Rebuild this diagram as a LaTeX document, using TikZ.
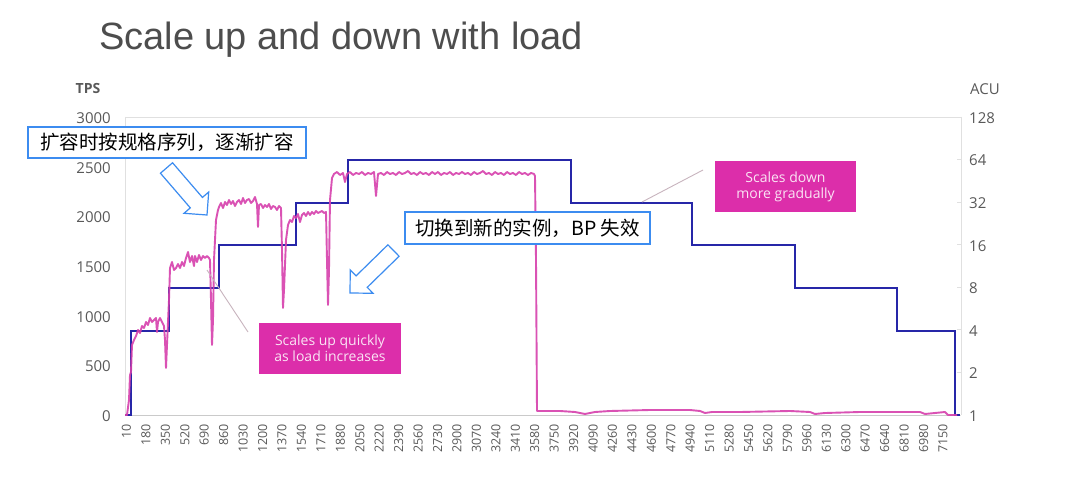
\documentclass[tikz,border=0pt]{standalone}
\usepackage{fontspec}
\setmainfont{Open Sans}
\newfontfamily\titlefont{Liberation Sans}
\newfontfamily\cjk{Noto Sans CJK SC}
\usetikzlibrary{calc}
\definecolor{tpspink}{RGB}{214,64,172}
\definecolor{acublue}{RGB}{38,38,168}
\definecolor{callpink}{RGB}{220,46,170}
\definecolor{callink}{RGB}{250,228,244}
\definecolor{boxblue}{RGB}{60,140,240}
\definecolor{axisgray}{RGB}{89,89,89}
\definecolor{gridgray}{RGB}{224,224,224}
\definecolor{leadgray}{RGB}{200,180,190}
\definecolor{titlegray}{RGB}{77,77,77}
\tikzset{
  ylab/.style={anchor=east,inner sep=0pt,text=axisgray,font=\fontsize{15}{18}\selectfont},
  rlab/.style={anchor=west,inner sep=0pt,text=axisgray,font=\fontsize{15}{18}\selectfont},
  xlab/.style={anchor=east,rotate=90,inner sep=0pt,text=axisgray,font=\fontsize{12.5}{14}\selectfont},
  cjkbox/.style={draw=boxblue,line width=1.3pt,fill=white,inner sep=0pt,text=black,font=\cjk\fontsize{19.5}{22}\selectfont},
  callout/.style={fill=callpink,inner sep=0pt,text=callink,align=center,font=\fontsize{14}{16}\selectfont},
  blockarrow/.style={draw=boxblue,line width=1.2pt,fill=white,line join=miter},
  leader/.style={draw=leadgray,line width=0.9pt},
  gridline/.style={draw=gridgray,line width=0.8pt},
  aculine/.style={draw=acublue,line width=2.7pt,line join=miter},
  tpsline/.style={draw=tpspink,line width=1.9pt,line join=round,opacity=0.9},
}
\begin{document}
\begin{tikzpicture}[x=1pt,y=-1pt]
\useasboundingbox[fill=white] (0,0) rectangle (1080,484);

% title
\node[anchor=base west,inner sep=0pt,text=titlegray,font=\titlefont\fontsize{38}{40}\selectfont] (title) at (99,50) {Scale up and down with load};

% axes
\draw[gridline] (125,117) -- (961,117);
\draw[gridline] (125,117) -- (125,415);
\draw[gridline] (961,117) -- (961,415);
\draw[draw=gridgray!90!black,line width=0.8pt] (125,415.5) -- (961,415.5);
\foreach \k in {0,...,7} {\draw[gridline] (957,{415-42.57*\k}) -- (961,{415-42.57*\k});}

% axis titles
\node[anchor=center,inner sep=0pt,text=axisgray,font=\bfseries\fontsize{14}{16}\selectfont] (tps) at (88,89) {TPS};
\node[anchor=center,inner sep=0pt,text=axisgray,font=\fontsize{15}{17}\selectfont] (acu) at (985,89) {ACU};

% left labels
\foreach \v/\n in {0/a,500/b,1000/c,1500/d,2000/e,2500/f,3000/g} {\node[ylab] (yl\n) at (111,{416-\v*0.0993}) {\v};}
% right labels
\foreach \v [count=\k from 0] in {1,2,4,8,16,32,64,128} {\node[rlab] (rl\k) at (969,{416-42.57*\k}) {\v};}
% x labels
\foreach \i in {0,...,42} {\pgfmathtruncatemacro\lab{10+170*\i}\node[xlab] (xl\i) at ({126.5+19.44*\i},424) {\lab};}

% ACU line
\draw[aculine] (125,415) -- (131,415) -- (131,331) -- (169,331) -- (169,288) -- (219,288) -- (219,245) -- (296,245) -- (296,203) -- (348,203) -- (348,160) -- (571,160) -- (571,203) -- (692,203) -- (692,245) -- (795,245) -- (795,288) -- (897,288) -- (897,331) -- (955,331) -- (955,415) -- (960,415);

% TPS line
\draw[tpsline] plot coordinates {
(125,415) (127,415) (129,400) (130,375) (131,372) (132,345) (134,340) (136,336) (138,330) (140,333) (142,326) (144,328) (146,322) (148,325) (150,318) (152,322) (154,320) (156,318) (157,332) (158,322) (160,318) (162,322) (164,326) (165,340) (166,368) (167,345) (168,322) (169,300) (170,268)
(172,262) (174,270) (176,268) (178,264) (180,268) (182,262) (184,266) (186,258) (188,252) (190,262) (192,256) (194,266) (195,256) (197,262) (199,255) (201,260) (203,256) (205,258) (207,256) (209,258) (210,260) (211,300) (212,345) (213,320) (214,260) (216,220) (218,210)
(219,207) (221,203) (223,208) (225,202) (227,205) (229,200) (231,204) (233,201) (235,206) (237,202) (239,200) (241,204) (243,198) (245,203) (247,200) (249,199) (251,203) (253,201) (255,197) (257,204) (258,227) (259,205) (261,204) (263,208) (265,205) (267,207) (269,204) (271,209) (273,206) (275,207) (277,210) (279,206) (281,208) (282,250) (283,308) (284,290) (286,240) (288,225)
(290,220) (292,222) (294,216) (296,218) (298,214) (300,222) (302,215) (304,213) (306,216) (308,212) (310,215) (312,212) (314,214) (316,211) (318,213) (320,212) (322,211) (324,213) (326,212) (327,260) (328,305) (329,270) (330,200) (332,178) (334,174)
(337,172) (340,175) (343,173) (345,182) (347,174) (350,172) (353,175) (356,173) (359,174) (362,172) (365,175) (368,173) (371,174) (374,172) (376,196) (378,174) (381,173) (384,175) (387,172) (390,174) (393,173) (396,175) (399,172) (402,174) (405,173) (408,171) (411,174) (414,173) (417,175) (420,172) (423,174) (426,173) (429,175) (432,172) (435,174) (438,172) (441,175) (444,173) (447,174) (450,172) (453,175) (456,173) (459,174) (462,172) (465,174) (468,173) (471,175) (474,172) (477,174) (480,173) (483,171) (486,174) (489,173) (492,175) (495,172) (498,174) (501,173) (504,175) (507,172) (510,174) (513,173) (516,175) (519,172) (522,174) (525,173) (528,175) (531,173) (534,174) (535,176)
(536,260) (537,411) (560,411) (575,412) (585,414) (595,412) (610,411) (650,410) (690,410) (700,411) (705,413) (712,412) (740,412) (790,411) (810,412) (815,414) (825,413) (860,412) (900,412) (920,412) (925,414) (935,413) (945,412) (948,415) (957,415)
};

% callouts
\node[callout,minimum width=142pt,minimum height=51pt] (up) at (330,348.5) {Scales up quickly\\as load increases};
\node[callout,minimum width=141pt,minimum height=51pt] (down) at (785.5,186.5) {Scales down\\more gradually};
\coordinate (l1a) at (207,270); \coordinate (l1b) at (248,332);
\draw[leader] (l1a) -- (l1b);
\coordinate (l2a) at (642,202); \coordinate (l2b) at (703,170);
\draw[leader] (l2a) -- (l2b);

% Chinese annotation boxes
\node[cjkbox,minimum width=278pt,minimum height=31pt] (note1) at (167,142.5) {扩容时按规格序列，逐渐扩容};
\node[cjkbox,minimum width=245pt,minimum height=32pt] (note2) at (527.5,228) {切换到新的实例，BP 失效};

% block arrows
\coordinate (a1t) at (166.5,168);
\coordinate (a1p) at (207,215);
\coordinate (a1b) at ($(a1p)!16.3pt!(a1t)$);
\draw[blockarrow] ($(a1t)!8pt!90:(a1p)$) -- ($(a1b)!8pt!90:(a1p)$) -- ($(a1b)!16.3pt!90:(a1p)$) -- (a1p) -- ($(a1b)!16.3pt!-90:(a1p)$) -- ($(a1b)!8pt!-90:(a1p)$) -- ($(a1t)!8pt!-90:(a1p)$) -- cycle;
\coordinate (a2t) at (393.5,250.5);
\coordinate (a2p) at (350,293);
\coordinate (a2b) at ($(a2p)!16.3pt!(a2t)$);
\draw[blockarrow] ($(a2t)!8pt!90:(a2p)$) -- ($(a2b)!8pt!90:(a2p)$) -- ($(a2b)!16.3pt!90:(a2p)$) -- (a2p) -- ($(a2b)!16.3pt!-90:(a2p)$) -- ($(a2b)!8pt!-90:(a2p)$) -- ($(a2t)!8pt!-90:(a2p)$) -- cycle;
\end{tikzpicture}
\end{document}
